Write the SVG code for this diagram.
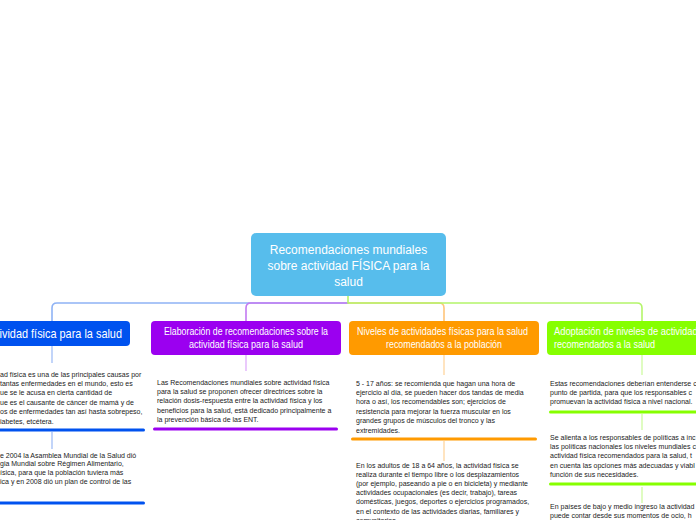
<svg xmlns="http://www.w3.org/2000/svg" width="696" height="520" viewBox="0 0 696 520">
<style>
.t{font-family:"Liberation Sans",Arial,sans-serif;font-size:7px;fill:#1a1a1a}
.h{font-family:"Liberation Sans",Arial,sans-serif;font-size:10px;fill:#ffffff}
.c{font-family:"Liberation Sans",Arial,sans-serif;font-size:12px;fill:#ffffff;text-anchor:middle}
.ln{fill:none;stroke-width:1.6;stroke-linecap:round}
.vl{fill:none;stroke-width:1.4}
</style>
<rect width="696" height="520" fill="#ffffff"/>
<g id="connectors">
<path class="ln" stroke="#8fb3f5" d="M348,303 L57,303 Q52,303 52,308 L52,321"/>
<path class="ln" stroke="#ffc57a" d="M348,303 L439,303 Q444,303 444,308 L444,321"/>
<path class="ln" stroke="#c37af2" d="M348,303 L251,303 Q246,303 246,308 L246,321"/>
<path class="ln" stroke="#b4f56a" d="M348,296 L348,303 L637,303 Q642,303 642,308 L642,321"/>
<path class="vl" stroke="#a9c3f7" d="M52,346 V363 M52,432 V449"/>
<path class="vl" stroke="#e1b3fb" d="M246,355 V371"/>
<path class="vl" stroke="#ffd9a6" d="M444,355 V375 M444,441 V461"/>
<path class="vl" stroke="#d2fba8" d="M642,355 V375 M642,414 V430 M642,487 V503"/>
</g>
<g id="central">
<rect x="251" y="233" width="195" height="63" rx="5" fill="#57bdec"/>
<text class="c" x="348.5" y="254">Recomendaciones mundiales</text>
<text class="c" x="348.5" y="270">sobre actividad FÍSICA para la</text>
<text class="c" x="348.5" y="285.5">salud</text>
</g>
<g id="node-blue">
<rect x="-30" y="321" width="160" height="25" rx="4" fill="#0052ef"/>
<text class="h" style="font-size:13px" x="122" y="337.5" text-anchor="end" textLength="137" lengthAdjust="spacingAndGlyphs">actividad física para la salud</text>
</g>
<g id="node-purple">
<rect x="151" y="321" width="190" height="34" rx="4" fill="#9b00f0"/>
<text class="h" x="246" y="334.5" text-anchor="middle" textLength="164" lengthAdjust="spacingAndGlyphs">Elaboración de recomendaciones sobre la</text>
<text class="h" x="246" y="347.5" text-anchor="middle" textLength="114" lengthAdjust="spacingAndGlyphs">actividad física para la salud</text>
</g>
<g id="node-orange">
<rect x="349" y="321" width="190" height="34" rx="4" fill="#ff9a00"/>
<text class="h" x="442.5" y="334.5" text-anchor="middle" textLength="171" lengthAdjust="spacingAndGlyphs">Niveles de actividades físicas para la salud</text>
<text class="h" x="444" y="347.5" text-anchor="middle" textLength="116" lengthAdjust="spacingAndGlyphs">recomendados a la población</text>
</g>
<g id="node-green">
<rect x="547" y="321" width="190" height="34" rx="4" fill="#86ff00"/>
<text class="h" x="554" y="334.5" textLength="168" lengthAdjust="spacingAndGlyphs">Adoptación de niveles de actividad física</text>
<text class="h" x="554" y="347.5" textLength="101" lengthAdjust="spacingAndGlyphs">recomendados a la salud</text>
</g>
<g id="text-blue-1">
<text class="t" x="0" y="376.5">ad física es una de las principales causas por</text>
<text class="t" x="0" y="385.9">tantas enfermedades en el mundo, esto es</text>
<text class="t" x="0" y="395.3">ue se le acusa en cierta cantidad de</text>
<text class="t" x="0" y="404.7">ue es el causante de cáncer de mamá y de</text>
<text class="t" x="0" y="414.1">os de enfermedades tan así hasta sobrepeso,</text>
<text class="t" x="0" y="423.5">iabetes, etcétera.</text>
<rect x="-5" y="428.5" width="150" height="3" rx="1.5" fill="#0052ef"/>
</g>
<g id="text-blue-2">
<text class="t" x="0" y="457.5">e 2004 la Asamblea Mundial de la Salud dió</text>
<text class="t" x="0" y="466.2">gia Mundial sobre Régimen Alimentario,</text>
<text class="t" x="0" y="474.9">ísica, para que la población tuviera más</text>
<text class="t" x="0" y="483.6">ica y en 2008 dió un plan de control de las</text>
<rect x="-5" y="501.5" width="150" height="3" rx="1.5" fill="#0052ef"/>
</g>
<g id="text-purple">
<text class="t" x="157" y="384.5">Las Recomendaciones mundiales sobre actividad física</text>
<text class="t" x="157" y="393.9">para la salud se proponen ofrecer directrices sobre la</text>
<text class="t" x="157" y="403.3">relación dosis-respuesta entre la actividad física y los</text>
<text class="t" x="157" y="412.7">beneficios para la salud, está dedicado principalmente a</text>
<text class="t" x="157" y="422.1">la prevención básica de las ENT.</text>
<rect x="153" y="427.5" width="185" height="3" rx="1.5" fill="#9b00f0"/>
</g>
<g id="text-orange-1">
<text class="t" x="356" y="385.5">5 - 17 años:  se recomienda que hagan una hora de</text>
<text class="t" x="356" y="394.9">ejercicio al día, se pueden hacer dos tandas de media</text>
<text class="t" x="356" y="404.3">hora o así, los recomendables son; ejercicios de</text>
<text class="t" x="356" y="413.7">resistencia para mejorar la fuerza muscular en los</text>
<text class="t" x="356" y="423.1">grandes grupos de músculos del tronco y las</text>
<text class="t" x="356" y="432.5">extremidades.</text>
<rect x="351" y="437.5" width="186" height="3" rx="1.5" fill="#ff9a00"/>
</g>
<g id="text-orange-2">
<text class="t" x="356" y="467.5">En los adultos de 18 a 64 años, la actividad física se</text>
<text class="t" x="356" y="476.7">realiza durante el tiempo libre o los desplazamientos</text>
<text class="t" x="356" y="485.9">(por ejemplo, paseando a pie o en bicicleta) y mediante</text>
<text class="t" x="356" y="495.1">actividades ocupacionales (es decir, trabajo), tareas</text>
<text class="t" x="356" y="504.3">domésticas, juegos, deportes o ejercicios programados,</text>
<text class="t" x="356" y="513.5">en el contexto de las actividades diarias, familiares y</text>
<text class="t" x="356" y="522.7">comunitarias.</text>
</g>
<g id="text-green-1">
<text class="t" x="550" y="385.5">Estas recomendaciones deberían entenderse c</text>
<text class="t" x="550" y="394.9">punto de partida, para que los responsables c</text>
<text class="t" x="550" y="404.3">promuevan la actividad física a nivel nacional.</text>
<rect x="549" y="410.5" width="152" height="3" rx="1.5" fill="#86ff00"/>
</g>
<g id="text-green-2">
<text class="t" x="550" y="439.5">Se alienta a los responsables de políticas a inc</text>
<text class="t" x="550" y="448.9">las políticas nacionales los niveles mundiales c</text>
<text class="t" x="550" y="458.3">actividad física recomendados para la salud, t</text>
<text class="t" x="550" y="467.7">en cuenta las opciones más adecuadas y viabl</text>
<text class="t" x="550" y="477.1">función de sus necesidades.</text>
<rect x="549" y="482.5" width="152" height="3" rx="1.5" fill="#86ff00"/>
</g>
<g id="text-green-3">
<text class="t" x="550" y="508.5">En países de bajo y medio ingreso la actividad</text>
<text class="t" x="550" y="517.9">puede contar desde sus momentos de ocio, h</text>
</g>
</svg>
